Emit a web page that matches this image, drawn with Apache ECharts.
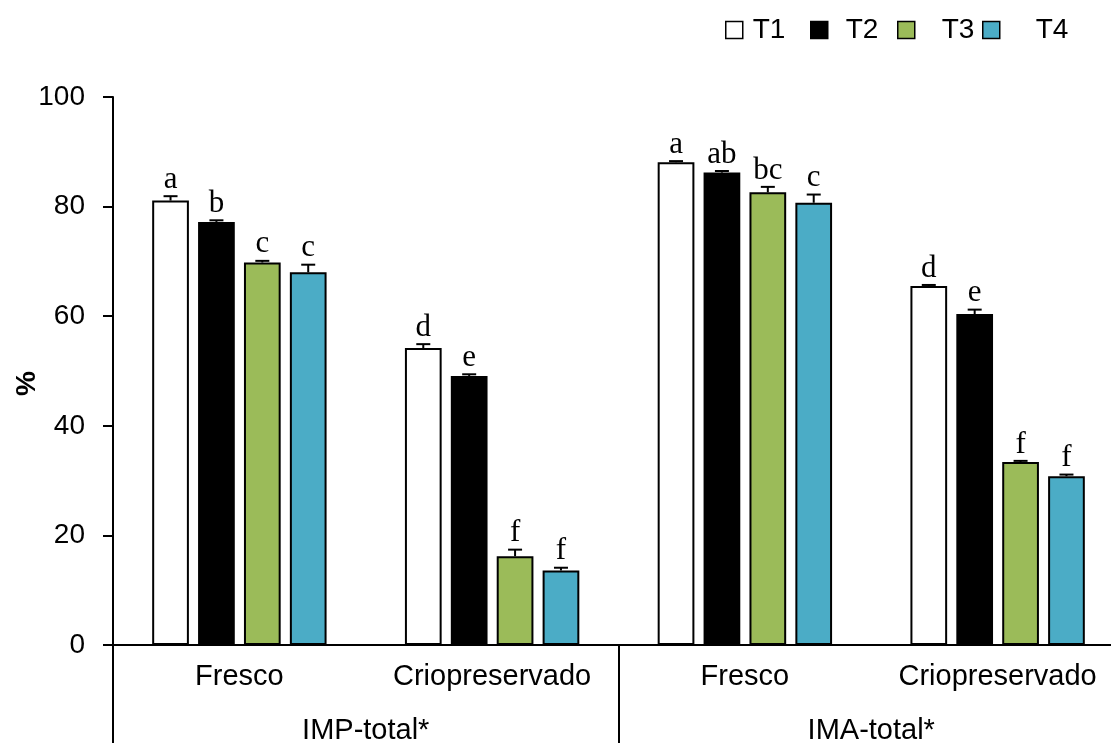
<!DOCTYPE html>
<html><head><meta charset="utf-8">
<script src="https://cdn.jsdelivr.net/npm/echarts@6/dist/echarts.min.js"></script>
<style>html,body{margin:0;padding:0;background:#fff}#c{width:1111px;height:743px}</style>
</head><body><div id="c"></div>
<script>
const categories = ['Fresco', 'Criopreservado', 'Fresco', 'Criopreservado'];
const groups = ['IMP-total*', 'IMA-total*'];
const seriesNames = ['T1', 'T2', 'T3', 'T4'];
const T1 = [81.1, 54.2, 88.1, 65.5];
const T2 = [77.2, 49.1, 86.2, 60.4];
const T3 = [69.8, 16.2, 82.6, 33.4];
const T4 = [68.0, 13.6, 80.7, 30.8];
const T1err = [0.8, 0.7, 0.2, 0.2];
const T2err = [0.3, 0.3, 0.3, 0.8];
const T3err = [0.3, 1.2, 1.0, 0.2];
const T4err = [1.4, 0.5, 1.5, 0.3];
const T1letters = ['a', 'd', 'a', 'd'];
const T2letters = ['b', 'e', 'ab', 'e'];
const T3letters = ['c', 'f', 'bc', 'f'];
const T4letters = ['c', 'f', 'c', 'f'];
const yTicks = [0, 20, 40, 60, 80, 100];

const values = [T1, T2, T3, T4];
const errs = [T1err, T2err, T3err, T4err];
const letters = [T1letters, T2letters, T3letters, T4letters];
const colors = ['#FFFFFF', '#000000', '#9BBB59', '#4BACC6'];
const CAT_GAP = 0.31, BAR_GAP = 0.25;
const SANS = '"Liberation Sans", Arial, sans-serif';

const chart = echarts.init(document.getElementById('c'), null, {renderer: 'canvas'});
const series = [];
seriesNames.forEach((name, i) => {
  series.push({
    name: name, type: 'bar', xAxisIndex: 0, yAxisIndex: 0,
    data: values[i],
    barCategoryGap: (CAT_GAP * 100) + '%', barGap: (BAR_GAP * 100) + '%',
    itemStyle: {color: colors[i], borderColor: '#000', borderWidth: 2},
    emphasis: {disabled: true}
  });
});
seriesNames.forEach((name, i) => {
  series.push({
    type: 'custom', xAxisIndex: 0, yAxisIndex: 0, z: 5,
    data: values[i].map((v, k) => [k, v, errs[i][k]]),
    renderItem: function (params, api) {
      const cat = api.value(0), v = api.value(1), e = api.value(2);
      const cw = api.size([1, 0])[0];
      const bw = cw * (1 - CAT_GAP) / (4 + 3 * BAR_GAP);
      const off = (i - 1.5) * bw * (1 + BAR_GAP);
      const base = api.coord([cat, v]);
      const top = api.coord([cat, v + e]);
      const x = base[0] + off;
      const st = {stroke: '#000', lineWidth: 2};
      return {
        type: 'group',
        children: [
          {type: 'line', shape: {x1: x, y1: base[1], x2: x, y2: top[1]}, style: st},
          {type: 'line', shape: {x1: x - 7, y1: top[1], x2: x + 7, y2: top[1]}, style: st},
          {type: 'text', style: {text: letters[i][params.dataIndex], x: x, y: top[1] - 1,
            textAlign: 'center', textVerticalAlign: 'bottom',
            font: '31px "Liberation Serif", serif', fill: '#000'}}
        ]
      };
    }
  });
});

const legendLeft = [725, 810, 897, 982];
const legendPad = [5, 13, 22, 31];
const legends = seriesNames.map((n, i) => ({
  data: [n], left: legendLeft[i], top: 16, padding: 0, itemWidth: 17, itemHeight: 17,
  icon: 'rect', selectedMode: false,
  itemStyle: {borderColor: '#000', borderWidth: 1.5},
  textStyle: {fontFamily: SANS, fontSize: 28, color: '#000', padding: [0, 0, 0, legendPad[i]]}
}));

chart.setOption({
  animation: false,
  backgroundColor: '#fff',
  legend: legends,
  grid: {left: 113, top: 97, right: -13, bottom: 98, containLabel: false, outerBoundsMode: 'none'},
  xAxis: [
    {type: 'category', data: categories, position: 'bottom',
      axisLine: {show: true, lineStyle: {color: '#000', width: 2}},
      axisTick: {show: false},
      axisLabel: {fontFamily: SANS, fontSize: 29, color: '#000', margin: 17, interval: 0}},
    {type: 'category', data: groups, position: 'bottom', gridIndex: 0,
      axisLine: {show: false},
      axisTick: {show: true, inside: false, length: 100, lineStyle: {color: '#000', width: 2}},
      axisLabel: {fontFamily: SANS, fontSize: 29, color: '#000', margin: 71, interval: 0}}
  ],
  yAxis: {type: 'value', min: yTicks[0], max: yTicks[yTicks.length - 1], interval: yTicks[1] - yTicks[0],
    axisLine: {show: true, lineStyle: {color: '#000', width: 2}},
    axisTick: {show: true, inside: false, length: 10, lineStyle: {color: '#000', width: 2}},
    axisLabel: {fontFamily: SANS, fontSize: 28, color: '#000', margin: 28},
    splitLine: {show: false}},
  graphic: [{type: 'text', left: 13, top: 371, rotation: Math.PI / 2,
    style: {text: '%', font: 'bold 28px "Liberation Sans", Arial', fill: '#000', textAlign: 'center', textVerticalAlign: 'middle'}}],
  series: series
});
</script></body></html>
